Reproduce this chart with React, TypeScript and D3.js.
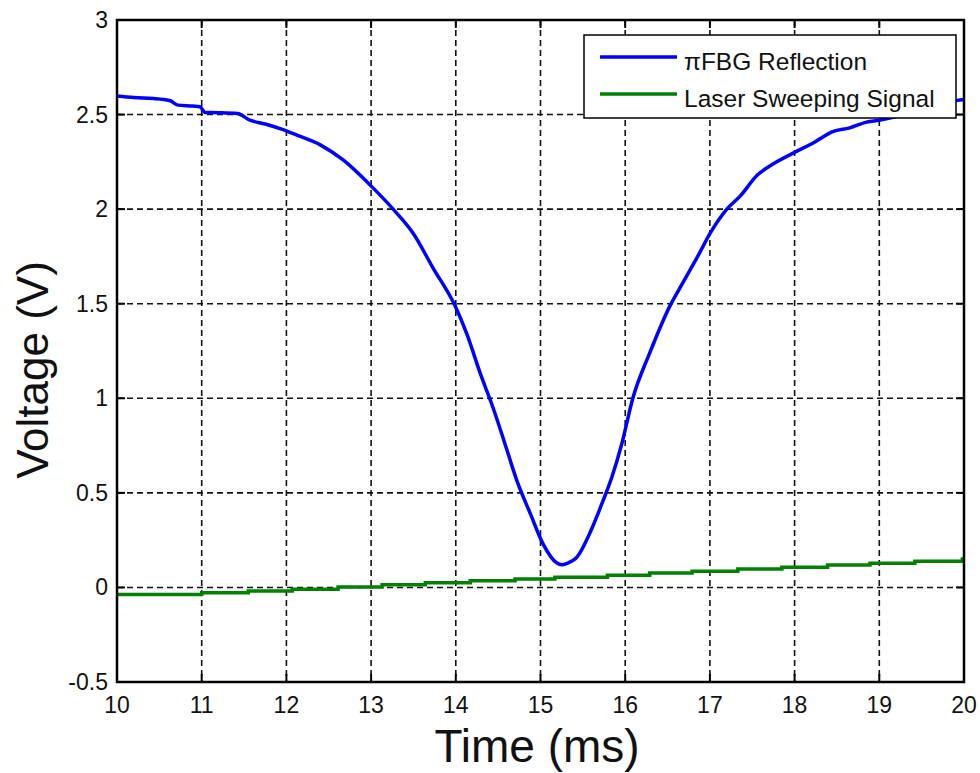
import React, { useRef, useEffect } from "react";
import * as d3 from "d3";

// πFBG reflection trace (time in ms, voltage in V)
const blueTime = [10.0, 10.2, 10.43, 10.55, 10.63, 10.72, 10.9, 10.98, 11.04, 11.2, 11.42, 11.57, 11.75, 11.96, 12.13, 12.4, 12.67, 12.99, 13.26, 13.5, 13.73, 13.99, 14.13, 14.29, 14.44, 14.58, 14.72, 14.88, 15.03, 15.19, 15.25, 15.31, 15.43, 15.58, 15.74, 15.84, 15.96, 16.09, 16.29, 16.53, 16.68, 16.88, 17.0, 17.2, 17.36, 17.56, 17.75, 18.0, 18.22, 18.45, 18.65, 18.85, 19.0, 19.3, 19.6, 19.92, 20.0];
const blueVolt = [2.598, 2.59, 2.585, 2.58, 2.573, 2.55, 2.545, 2.541, 2.511, 2.51, 2.506, 2.47, 2.45, 2.42, 2.39, 2.34, 2.26, 2.127, 2.0, 1.87, 1.69, 1.49, 1.34, 1.13, 0.95, 0.76, 0.566, 0.39, 0.23, 0.13, 0.12, 0.127, 0.16, 0.285, 0.46, 0.58, 0.76, 1.0, 1.24, 1.49, 1.61, 1.77, 1.87, 2.0, 2.07, 2.18, 2.24, 2.30, 2.35, 2.41, 2.43, 2.46, 2.47, 2.50, 2.53, 2.575, 2.58];

// laser sweeping signal, a staircase
const greenTime = [10.0, 11.0, 11.55, 12.07, 12.61, 13.13, 13.64, 14.17, 14.7, 15.17, 15.79, 16.29, 16.79, 17.33, 17.85, 18.39, 18.89, 19.42, 19.98, 20.0];
const greenVolt = [-0.037, -0.028, -0.019, -0.009, 0.002, 0.014, 0.025, 0.035, 0.044, 0.054, 0.065, 0.076, 0.086, 0.097, 0.107, 0.118, 0.128, 0.139, 0.15, 0.15];

const xTicks = [10, 11, 12, 13, 14, 15, 16, 17, 18, 19, 20];
const yTicks = [-0.5, 0, 0.5, 1, 1.5, 2, 2.5, 3];
const seriesNames = ["\u03c0FBG Reflection", "Laser Sweeping Signal"];
const seriesColors = ["#0000ff", "#008000"];

const App = () => {
	const svgRef = useRef(null);
	const W = 980, H = 773;
	const left = 117, right = 964, top = 20, bottom = 682;

	useEffect(() => {
		const svg = d3.select(svgRef.current);
		svg.selectChildren().remove();

		const x = d3.scaleLinear().domain([10, 20]).range([left, right]);
		const y = d3.scaleLinear().domain([-0.5, 3]).range([bottom, top]);
		const font = "Arial, 'Liberation Sans', Helvetica, sans-serif";

		svg.append("rect").attr("width", W).attr("height", H).attr("fill", "#fff");

		svg.append("clipPath").attr("id", "plotclip")
			.append("rect")
			.attr("x", left).attr("y", top)
			.attr("width", right - left).attr("height", bottom - top);

		// dashed grid
		const grid = svg.append("g")
			.attr("stroke", "#111")
			.attr("stroke-width", 1.6)
			.attr("stroke-dasharray", "6,4");
		xTicks.slice(1, -1).forEach(t => {
			grid.append("line")
				.attr("x1", x(t)).attr("x2", x(t))
				.attr("y1", top).attr("y2", bottom);
		});
		yTicks.slice(1, -1).forEach(t => {
			grid.append("line")
				.attr("x1", left).attr("x2", right)
				.attr("y1", y(t)).attr("y2", y(t));
		});

		// traces
		const plot = svg.append("g").attr("clip-path", "url(#plotclip)");
		const blue = blueTime.map((t, i) => [t, blueVolt[i]]);
		const green = greenTime.map((t, i) => [t, greenVolt[i]]);
		plot.append("path")
			.datum(green)
			.attr("fill", "none")
			.attr("stroke", seriesColors[1])
			.attr("stroke-width", 3.5)
			.attr("d", d3.line().curve(d3.curveStepAfter)
				.x(d => x(d[0]))
				.y(d => y(d[1])));
		plot.append("path")
			.datum(blue)
			.attr("fill", "none")
			.attr("stroke", seriesColors[0])
			.attr("stroke-width", 3.5)
			.attr("stroke-linejoin", "round")
			.attr("d", d3.line().curve(d3.curveMonotoneX)
				.x(d => x(d[0]))
				.y(d => y(d[1])));

		// inner ticks on all four sides
		const ticks = svg.append("g").attr("stroke", "#000").attr("stroke-width", 2);
		xTicks.forEach(t => {
			ticks.append("line").attr("x1", x(t)).attr("x2", x(t)).attr("y1", bottom).attr("y2", bottom - 8);
			ticks.append("line").attr("x1", x(t)).attr("x2", x(t)).attr("y1", top).attr("y2", top + 8);
		});
		yTicks.forEach(t => {
			ticks.append("line").attr("x1", left).attr("x2", left + 8).attr("y1", y(t)).attr("y2", y(t));
			ticks.append("line").attr("x1", right).attr("x2", right - 8).attr("y1", y(t)).attr("y2", y(t));
		});

		// box
		svg.append("rect")
			.attr("x", left).attr("y", top)
			.attr("width", right - left).attr("height", bottom - top)
			.attr("fill", "none")
			.attr("stroke", "#000")
			.attr("stroke-width", 2.5);

		// tick labels
		xTicks.forEach(t => {
			svg.append("text")
				.attr("x", x(t)).attr("y", 713)
				.attr("text-anchor", "middle")
				.style("font-family", font).style("font-size", "23px")
				.attr("fill", "#111")
				.text(t);
		});
		yTicks.forEach(t => {
			svg.append("text")
				.attr("x", 108).attr("y", y(t) + 8)
				.attr("text-anchor", "end")
				.style("font-family", font).style("font-size", "23px")
				.attr("fill", "#111")
				.text(t);
		});

		// axis titles
		svg.append("text")
			.attr("x", 537).attr("y", 762)
			.attr("text-anchor", "middle")
			.style("font-family", font).style("font-size", "46px")
			.attr("fill", "#111")
			.text("Time (ms)");
		svg.append("text")
			.attr("transform", "translate(48, 370) rotate(-90)")
			.attr("text-anchor", "middle")
			.style("font-family", font).style("font-size", "44px")
			.attr("fill", "#111")
			.text("Voltage (V)");

		// legend
		const lg = svg.append("g");
		lg.append("rect")
			.attr("x", 584).attr("y", 35)
			.attr("width", 372).attr("height", 83)
			.attr("fill", "#fff")
			.attr("stroke", "#000")
			.attr("stroke-width", 1.5);
		seriesNames.forEach((name, i) => {
			const ly = 57 + i * 37;
			lg.append("line")
				.attr("x1", 600).attr("x2", 677)
				.attr("y1", ly).attr("y2", ly)
				.attr("stroke", seriesColors[i])
				.attr("stroke-width", 3.5);
			lg.append("text")
				.attr("x", 684).attr("y", ly + 13)
				.style("font-family", font).style("font-size", "24.5px")
				.attr("fill", "#111")
				.text(name);
		});
	});

	return (
		<svg ref={svgRef} width={W} height={H}
			style={{ position: "absolute", left: 0, top: 0 }}>
		</svg>
	);
};

export default App;
